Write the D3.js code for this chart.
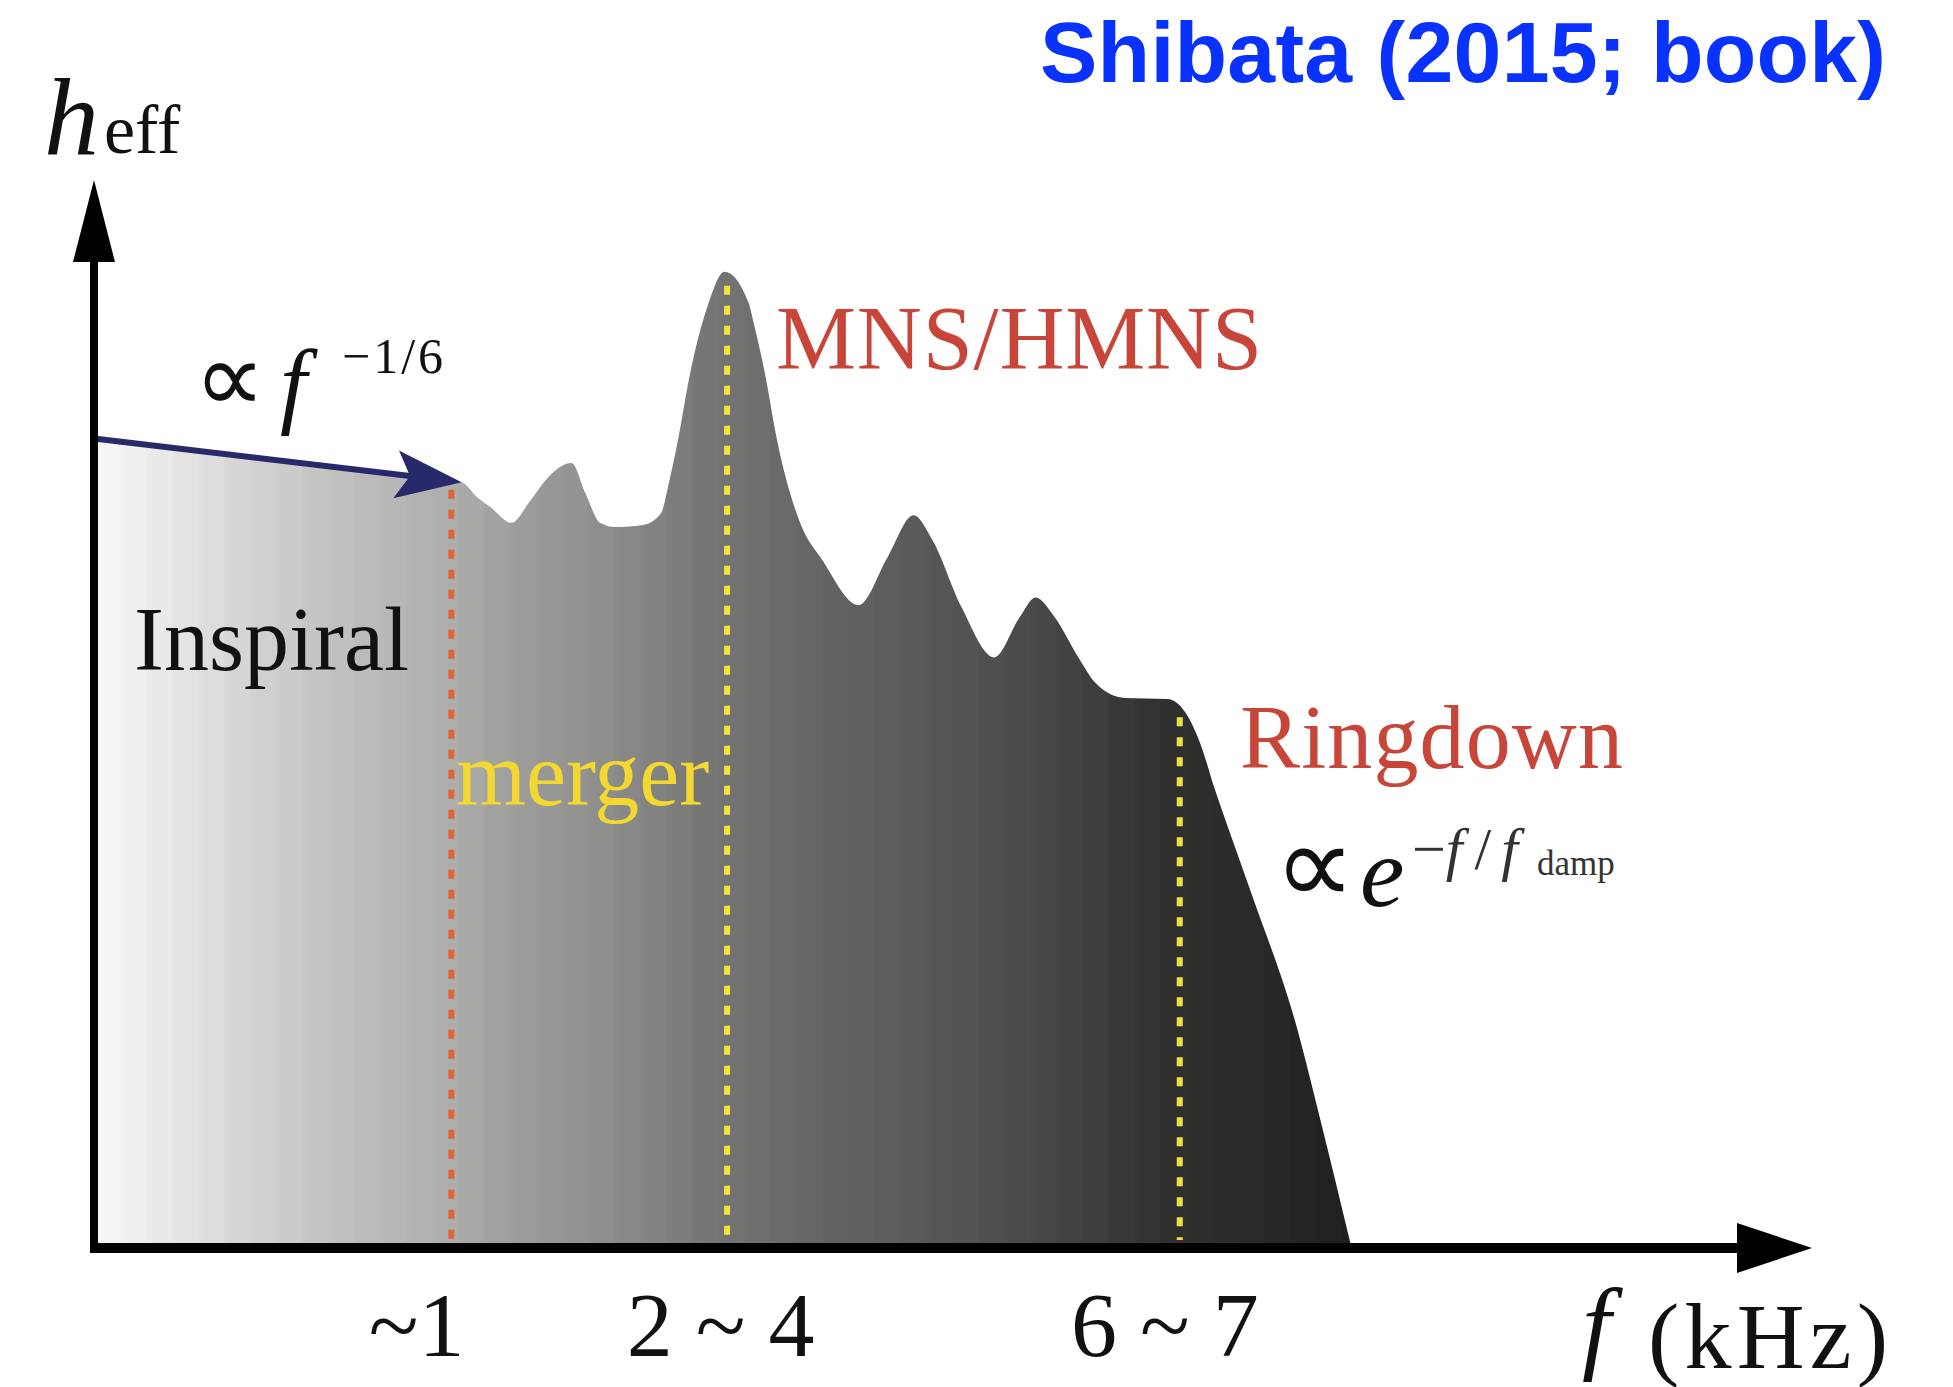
<!DOCTYPE html>
<html>
<head>
<meta charset="utf-8">
<script src="https://cdn.jsdelivr.net/npm/d3@7"></script>
<style>
  html, body { margin: 0; padding: 0; background: #ffffff; }
  svg { display: block; }
</style>
</head>
<body>
<svg id="chart" width="1953" height="1387"></svg>
<script>
// Schematic GW spectrum of a binary neutron-star merger (arbitrary units on both axes).
const specFreq = [0, 7, 14, 21.4, 22.3, 23.05, 24.3, 25.4, 26.4, 27.3, 27.8, 28.6, 29.45, 30.3, 31.95, 33.0, 33.5,
  34.0, 34.7, 35.7, 36.7, 38.1, 38.4, 39.05, 39.75, 41.1, 42.4, 44.5, 46.2, 47.7, 48.8, 50.5, 52.4,
  53.9, 54.8, 55.9, 57.3, 58.3, 60.0, 62.5, 63.5, 64.4, 65.25, 66.2, 67.5, 69.9, 71.4, 73.2];
const specAmp = [75.8, 74.45, 73.1, 71.7, 70.3, 69.4, 67.9, 70.0, 72.1, 73.3, 73.5, 70.7, 67.9, 67.5, 67.7, 68.8, 71.9,
  75.7, 81.9, 88.1, 91.4, 88.5, 86.6, 81.9, 75.7, 67.9, 64.4, 60.2, 64.7, 68.6, 66.3, 60.0, 55.3,
  59.1, 60.9, 59.1, 55.3, 52.9, 51.5, 51.4, 50.2, 47.2, 42.9, 38.5, 32.6, 21.3, 11.9, 0];

// Phase boundaries (frequency, top of the dotted marker)
const boundaryFreq = [20.8, 36.85, 63.2];
const boundaryTop = [71.0, 90.1, 49.7];
const boundaryKind = ["inspiral", "peak", "ringdown"];

// Frequency tick labels (kHz) and where they sit on the axis
const tickLabels = ["~1", "2 ~ 4", "6 ~ 7"];
const tickFreq = [18.75, 36.45, 62.3];

// Inspiral power law guide: from the axis to the onset of merger
const powerLawFreq = [0, 21.4];
const powerLawAmp = [75.8, 71.7];

const svg = d3.select("#chart");

const x = d3.scaleLinear().domain([0, 100]).range([94, 1812]);
const y = d3.scaleLinear().domain([0, 100]).range([1248, 180]);

// Banded grey gradient, light on the low-frequency side, nearly black at ringdown
const shadeX = [94, 150, 250, 350, 450, 500, 600, 700, 800, 900, 1000, 1100, 1150, 1250, 1350];
const shadeC = ["#f8f8f8", "#ebebeb", "#d3d4d2", "#bebfbc", "#adaeab", "#a0a19f", "#8e8f8c", "#777876",
  "#676866", "#5b5c5a", "#4e4f4d", "#3d3e3c", "#323331", "#2a2a29", "#201e1d"];
const shade = d3.scaleLinear().domain(shadeX).range(shadeC).interpolate(d3.interpolateRgb).clamp(true);

const defs = svg.append("defs");
const grad = defs.append("linearGradient")
  .attr("id", "specFill")
  .attr("gradientUnits", "userSpaceOnUse")
  .attr("x1", 94).attr("x2", 1352).attr("y1", 0).attr("y2", 0);
const bandW = 26;
const span = 1352 - 94;
for (let b0 = 94; b0 < 1352; b0 += bandW) {
  const b1 = Math.min(b0 + bandW, 1352);
  // soft band edges: a short blend at each boundary
  grad.append("stop").attr("offset", (b0 - 94) / span).attr("stop-color", shade(b0));
  grad.append("stop").attr("offset", (b0 + 6 - 94) / span).attr("stop-color", shade(b0 + bandW / 2));
  grad.append("stop").attr("offset", (b1 - 94) / span).attr("stop-color", shade(b0 + bandW / 2));
}

const specData = specFreq.map((f, i) => ({ f, h: specAmp[i] }));

const area = d3.area()
  .x(d => x(d.f))
  .y0(y(0))
  .y1(d => y(d.h))
  .curve(d3.curveMonotoneX);

svg.append("path")
  .datum(specData)
  .attr("d", area)
  .attr("fill", "url(#specFill)");

// Dotted phase-boundary markers
const markerColor = { inspiral: "#e0643a", peak: "#f2e23c", ringdown: "#f0e040" };
svg.append("g").selectAll("line")
  .data(boundaryFreq.map((f, i) => ({ f, top: boundaryTop[i], kind: boundaryKind[i] })))
  .join("line")
  .attr("x1", d => x(d.f)).attr("x2", d => x(d.f))
  .attr("y1", d => y(d.top)).attr("y2", y(0) - 8)
  .attr("stroke", d => markerColor[d.kind])
  .attr("stroke-width", 6)
  .attr("stroke-dasharray", "9,11");

// Power-law arrow
const pl0 = [x(powerLawFreq[0]), y(powerLawAmp[0])];
const pl1 = [x(powerLawFreq[1]), y(powerLawAmp[1])];
const ang = Math.atan2(pl1[1] - pl0[1], pl1[0] - pl0[0]);
const ux = Math.cos(ang), uy = Math.sin(ang), nx = -uy, ny = ux;
const headL = 66, headW = 24, notch = 52;
svg.append("line")
  .attr("x1", pl0[0]).attr("y1", pl0[1])
  .attr("x2", pl1[0] - ux * notch).attr("y2", pl1[1] - uy * notch)
  .attr("stroke", "#27296b").attr("stroke-width", 6);
svg.append("path")
  .attr("d", `M${pl1[0]},${pl1[1]}
    L${pl1[0] - ux * headL + nx * headW},${pl1[1] - uy * headL + ny * headW}
    L${pl1[0] - ux * notch},${pl1[1] - uy * notch}
    L${pl1[0] - ux * headL - nx * headW},${pl1[1] - uy * headL - ny * headW}Z`)
  .attr("fill", "#27296b");

// Axes with arrowheads
const x0 = x(0), yb = y(0);
svg.append("line").attr("x1", x0).attr("y1", yb + 5).attr("x2", x0).attr("y2", 262)
  .attr("stroke", "#000").attr("stroke-width", 8);
svg.append("path")
  .attr("d", `M${x0},${y(100)} L${x0 + 21},262 L${x0 - 21},262 Z`).attr("fill", "#000");
svg.append("line").attr("x1", x0 - 4).attr("y1", yb).attr("x2", 1740).attr("y2", yb)
  .attr("stroke", "#000").attr("stroke-width", 10);
svg.append("path")
  .attr("d", `M${x(100)},${yb} L1737,${yb - 25} L1737,${yb + 25} Z`).attr("fill", "#000");

// Frequency tick labels through a bottom axis (no domain line, no ticks)
const xAxis = d3.axisBottom(x)
  .tickValues(tickFreq)
  .tickFormat((d, i) => tickLabels[i])
  .tickSize(0)
  .tickPadding(0);
const gx = svg.append("g")
  .attr("transform", `translate(0,${yb})`)
  .call(xAxis);
gx.select(".domain").remove();
gx.selectAll("text")
  .attr("font-family", "Liberation Serif, serif")
  .attr("font-size", 92)
  .attr("fill", "#111")
  .attr("dy", null)
  .attr("y", 108);

// Axis titles
const T = svg.append("g").attr("font-family", "Liberation Serif, serif");
T.append("text").attr("x", 44).attr("y", 155).attr("font-size", 110).attr("font-style", "italic")
  .attr("fill", "#111").text("h");
T.append("text").attr("x", 104).attr("y", 153).attr("font-size", 70).attr("fill", "#111").text("eff");

T.append("text").attr("x", 1582).attr("y", 1360).attr("font-size", 104).attr("font-style", "italic")
  .attr("fill", "#111").text("f");
T.append("text").attr("x", 1648).attr("y", 1368).attr("font-size", 94).attr("fill", "#111")
  .attr("textLength", 240).text("(kHz)");

// Power-law annotation
T.append("text").attr("x", 194).attr("y", 412).attr("font-size", 100).attr("fill", "#111").text("\u221D");
T.append("text").attr("x", 280).attr("y", 416).attr("font-size", 96).attr("font-style", "italic")
  .attr("fill", "#111").text("f");
T.append("text").attr("x", 342).attr("y", 373).attr("font-size", 50).attr("fill", "#111")
  .attr("textLength", 101).text("\u22121/6");

// Phase labels
T.append("text").attr("x", 134).attr("y", 670).attr("font-size", 90).attr("fill", "#111").text("Inspiral");
T.append("text").attr("x", 456).attr("y", 805).attr("font-size", 90).attr("fill", "#f2d830").text("merger");
T.append("text").attr("x", 776).attr("y", 369).attr("font-size", 90).attr("fill", "#c8453a")
  .attr("textLength", 486).text("MNS/HMNS");
T.append("text").attr("x", 1240).attr("y", 768).attr("font-size", 90).attr("fill", "#c8453a")
  .attr("textLength", 383).text("Ringdown");

// Ringdown damping law
T.append("text").attr("x", 1274).attr("y", 904).attr("font-size", 114).attr("fill", "#111").text("\u221D");
T.append("text").attr("x", 1360).attr("y", 906).attr("font-size", 100).attr("font-style", "italic")
  .attr("fill", "#111").text("e");
const sup = T.append("text").attr("x", 1412).attr("y", 869).attr("font-size", 60).attr("fill", "#333");
sup.append("tspan").text("\u2212");
sup.append("tspan").attr("font-style", "italic").text("f");
sup.append("tspan").attr("dx", 12).text("/");
sup.append("tspan").attr("dx", 10).attr("font-style", "italic").text("f");
T.append("text").attr("x", 1537).attr("y", 875).attr("font-size", 35).attr("fill", "#333").text("damp");

// Citation
svg.append("text")
  .attr("x", 1040).attr("y", 82)
  .attr("font-family", "Liberation Sans, Arial, sans-serif")
  .attr("font-weight", "bold")
  .attr("font-size", 86)
  .attr("fill", "#0a32ff")
  .attr("textLength", 846)
  .text("Shibata (2015; book)");
</script>
</body>
</html>
